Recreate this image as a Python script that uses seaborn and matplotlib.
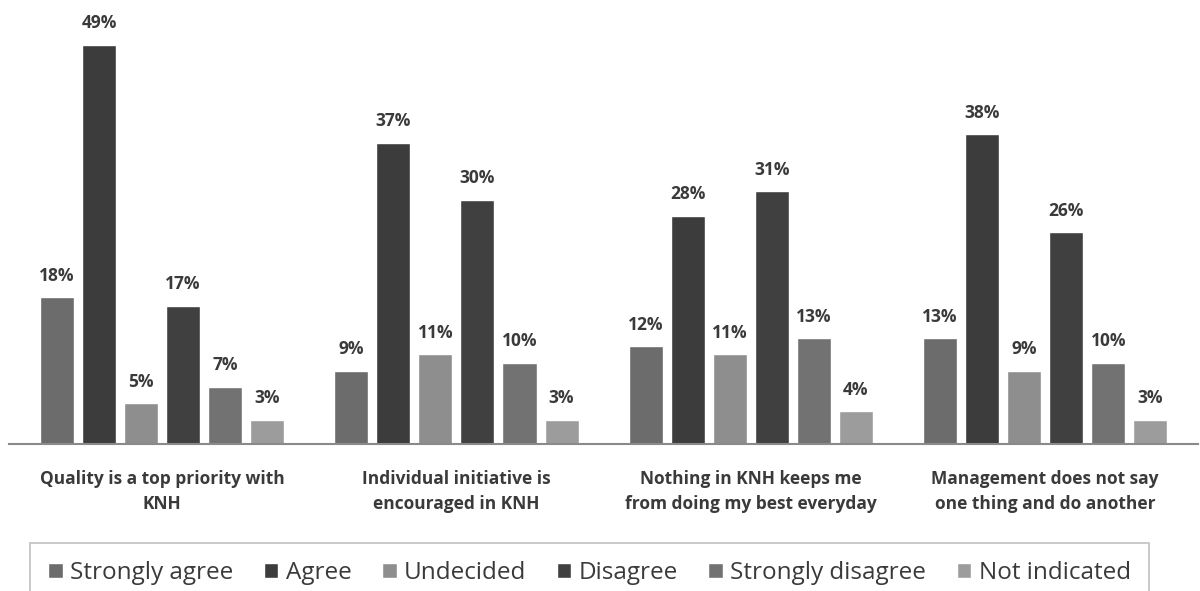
import matplotlib
matplotlib.use("Agg")
import matplotlib.pyplot as plt
import pandas as pd
import seaborn as sns

# Survey statements (x-axis categories)
statements = [
    "Quality is a top priority with\nKNH",
    "Individual initiative is\nencouraged in KNH",
    "Nothing in KNH keeps me\nfrom doing my best everyday",
    "Management does not say\none thing and do another",
]

# Response options (legend order)
responses = ["Strongly agree", "Agree", "Undecided", "Disagree",
             "Strongly disagree", "Not indicated"]

# Percentage of respondents per response, one list per statement
quality = [18, 49, 5, 17, 7, 3]
initiative = [9, 37, 11, 30, 10, 3]
nothing_keeps = [12, 28, 11, 31, 13, 4]
management = [13, 38, 9, 26, 10, 3]

# Grey shades for each response
shades = ["#6c6c6c", "#3c3c3c", "#8e8e8e", "#404040", "#727272", "#9c9c9c"]

rows = []
for stmt, vals in zip(statements, [quality, initiative, nothing_keeps, management]):
    for resp, v in zip(responses, vals):
        rows.append({"statement": stmt, "response": resp, "pct": v})
df = pd.DataFrame(rows)

sns.set_theme(style="white")
plt.rcParams["font.family"] = ["Open Sans", "DejaVu Sans"]

W, H = 1200, 591
fig = plt.figure(figsize=(W / 100, H / 100), dpi=100)
fig.patch.set_facecolor("white")
ax = fig.add_axes([0.0075, 0.2487, 0.991, 0.7513])

sns.barplot(data=df, x="statement", y="pct", hue="response",
            order=statements, hue_order=responses, palette=shades,
            width=0.857, gap=0.19, saturation=1, ax=ax, legend=True)

# Value labels above each bar
text_col = "#3a3a3a"
for container in ax.containers:
    ax.bar_label(container, labels=[f"{int(round(v))}%" for v in container.datavalues],
                 padding=9, fontsize=12.5, fontweight="bold", color=text_col)

ax.set_xlim(-0.52, 3.52)
ax.set_ylim(0, 54.5)
ax.set_xlabel("")
ax.set_ylabel("")
ax.set_yticks([])
for side in ["top", "right", "left"]:
    ax.spines[side].set_visible(False)
ax.spines["bottom"].set_color("#8a8a8a")
ax.spines["bottom"].set_linewidth(1.5)
ax.tick_params(axis="x", length=0, pad=19)
for lbl in ax.get_xticklabels():
    lbl.set_fontweight("bold")
    lbl.set_fontsize(12.5)
    lbl.set_color(text_col)
    lbl.set_linespacing(1.5)

handles, labels = ax.get_legend_handles_labels()
ax.get_legend().remove()


def make_legend(colspace):
    lg = fig.legend(handles, labels, loc="upper left",
                    bbox_to_anchor=(30 / W, 1 - 543 / H), borderaxespad=0,
                    ncol=6, fontsize=17.5, frameon=True, fancybox=False,
                    handlelength=0.6, handleheight=0.6, handletextpad=0.3,
                    columnspacing=colspace, borderpad=0.75, labelcolor=text_col)
    lg.get_frame().set_edgecolor("#b0b0b0")
    lg.get_frame().set_linewidth(1.2)
    return lg


# Widen the column spacing so the legend box spans x = 30 .. 1149 px
leg = make_legend(1.0)
fig.canvas.draw()
width_px = leg.get_window_extent().width
target_px = 1149 - 30
extra_per_gap = (target_px - width_px) / 5
em_px = 17.5 * 100 / 72
leg.remove()
leg = make_legend(1.0 + extra_per_gap / em_px)

fig.savefig("out.png", dpi=100, facecolor="white")
